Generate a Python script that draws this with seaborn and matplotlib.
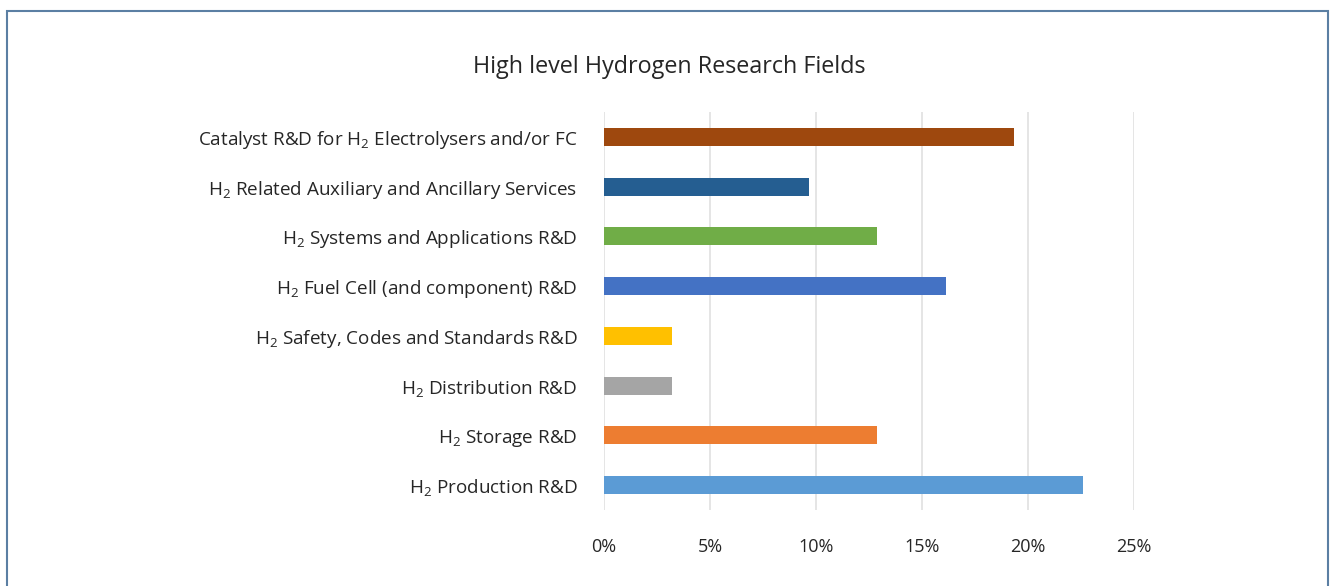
import pandas as pd
import seaborn as sns
import matplotlib.pyplot as plt
from matplotlib.patches import Rectangle
from matplotlib.ticker import PercentFormatter

# research fields, top to bottom as shown
fields = [
    "Catalyst R&D for H$_2$ Electrolysers and/or FC",
    "H$_2$ Related Auxiliary and Ancillary Services",
    "H$_2$ Systems and Applications R&D",
    "H$_2$ Fuel Cell (and component) R&D",
    "H$_2$ Safety, Codes and Standards R&D",
    "H$_2$ Distribution R&D",
    "H$_2$ Storage R&D",
    "H$_2$ Production R&D",
]
shares = [19.35, 9.68, 12.90, 16.13, 3.23, 3.23, 12.90, 22.58]
colors = ["#9e480e", "#255e91", "#70ad47", "#4472c4",
          "#ffc000", "#a5a5a5", "#ed7d31", "#5b9bd5"]
xticks = [0, 5, 10, 15, 20, 25]

df = pd.DataFrame({"field": fields, "share": shares})

sns.set_style("white")
plt.rcParams['font.family'] = ['Open Sans', 'DejaVu Sans']
plt.rcParams['mathtext.default'] = 'regular'
text_color = "#262626"

fig = plt.figure(figsize=(13.3, 5.86), dpi=100)
ax = fig.add_axes([604 / 1330, 1 - 510 / 586, 530 / 1330, 398 / 586])

sns.barplot(data=df, x="share", y="field", hue="field", palette=colors,
            orient="h", width=0.36, legend=False, ax=ax, saturation=1,
            linewidth=0)

ax.set_xlim(0, 25)
ax.set_xticks(xticks)
ax.xaxis.set_major_formatter(PercentFormatter(decimals=0))
ax.grid(axis="x", color="#e3e3e3", linewidth=1.3)
ax.set_axisbelow(True)
for s in ax.spines.values():
    s.set_visible(False)
ax.set_xlabel("")
ax.set_ylabel("")
ax.tick_params(axis="both", length=0, colors=text_color)
ax.tick_params(axis="x", pad=20, labelsize=13)
ax.tick_params(axis="y", pad=19, labelsize=13.6)

fig.text(0.503, 1 - 67 / 586, "High level Hydrogen Research Fields",
         ha="center", va="center", fontsize=16.8, color=text_color)

# outer frame of the chart box (no bottom edge visible)
fig.patches.append(Rectangle((7 / 1330, -0.05), (1328 - 7) / 1330, 1.05 - 11 / 586,
                             transform=fig.transFigure, fill=False,
                             edgecolor="#5b7fa3", linewidth=1.5))

fig.savefig("out.png", dpi=100)
